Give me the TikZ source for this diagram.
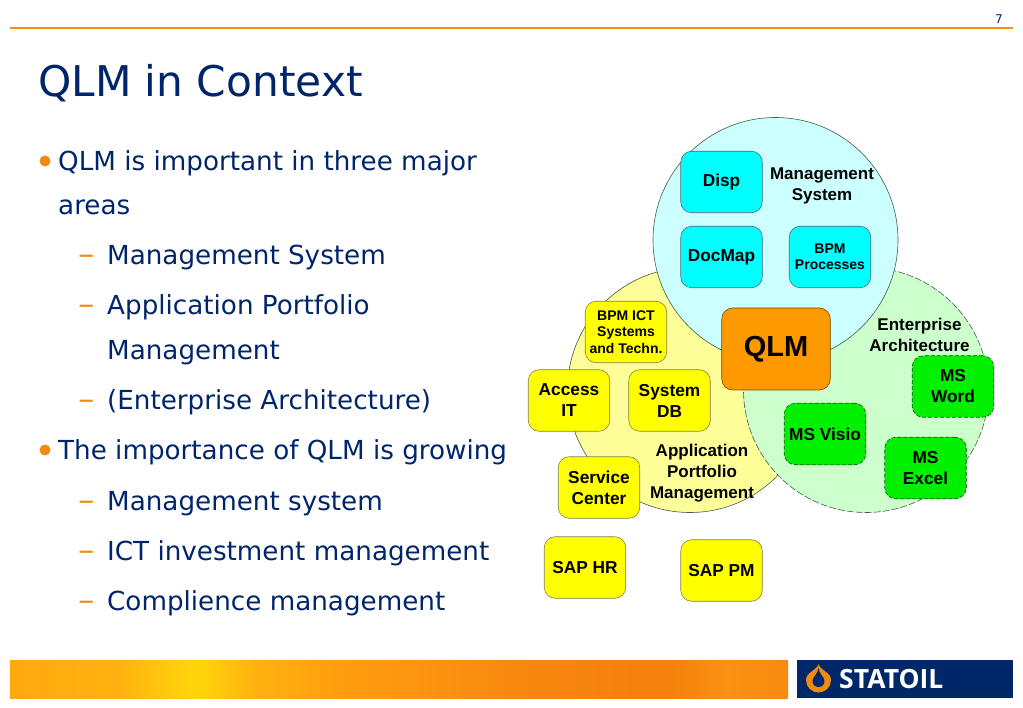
\documentclass[tikz,border=0pt]{standalone}
\usepackage{fontspec}
\setmainfont{DejaVu Sans}
\newfontfamily\lblfont[BoldFont={Liberation Sans Bold}]{Liberation Sans}
\newfontfamily\logofont{Open Sans}[BoldFont={Open Sans Bold}]
\definecolor{navy}{HTML}{00256B}
\definecolor{headerline}{HTML}{F59000}
\definecolor{bulletcol}{HTML}{F08A12}
\definecolor{logoblue}{HTML}{002868}
\definecolor{edgecol}{HTML}{3F5F3F}
\definecolor{lcyan}{HTML}{CCFFFF}
\definecolor{lyellow}{HTML}{FFFF99}
\definecolor{lgreen}{HTML}{CCFFCC}
\definecolor{cyanbox}{HTML}{00FFFF}
\definecolor{yellowbox}{HTML}{FFFF00}
\definecolor{greenbox}{HTML}{00F000}
\definecolor{orangebox}{HTML}{FF9900}
\pgfdeclarehorizontalshading{footerband}{100bp}{
 rgb(0bp)=(1,0.66,0.06);
 rgb(25bp)=(1,0.66,0.06);
 rgb(32bp)=(1,0.70,0.06);
 rgb(37bp)=(1,0.84,0.04);
 rgb(41bp)=(1,0.69,0.06);
 rgb(46bp)=(1,0.62,0.06);
 rgb(58.5bp)=(0.97,0.53,0.06);
 rgb(67bp)=(0.96,0.50,0.05);
 rgb(71bp)=(0.98,0.57,0.07);
 rgb(75bp)=(0.97,0.54,0.06);
 rgb(100bp)=(0.97,0.54,0.06)}
\newcommand{\longdash}{\scalebox{1.25}[1.15]{–}}
\tikzset{
 x=1pt,y=-1pt,
 titletext/.style={anchor=base west,inner sep=0pt,text=navy,font=\fontsize{42.3}{50}\selectfont},
 bodytext/.style={anchor=base west,inner sep=0pt,text=navy,font=\fontsize{26.2}{30}\selectfont},
 dashmark/.style={anchor=base west,inner sep=0pt,text=bulletcol,font=\fontsize{26.2}{30}\selectfont},
 bulletdot/.style={circle,fill=bulletcol,draw=none,minimum size=11pt,inner sep=0pt},
 area/.style={circle,minimum size=245pt,inner sep=0pt,draw=edgecol,line width=0.6pt},
 arealabel/.style={inner sep=0pt,align=center,text=black,font=\lblfont\bfseries\fontsize{17}{21}\selectfont},
 box/.style={rounded corners=11pt,minimum width=81.5pt,minimum height=61.5pt,inner sep=0pt,align=center,draw=edgecol,line width=0.6pt,text=black,font=\lblfont\bfseries\fontsize{17.3}{21}\selectfont},
 cyanitem/.style={box,fill=cyanbox,draw=black!60!cyan},
 yellowitem/.style={box,fill=yellowbox,draw=black!55!yellow},
 greenitem/.style={box,fill=greenbox,draw=black!65!green,dash pattern=on 4pt off 2pt},
 smalltext/.style={font=\lblfont\bfseries\fontsize{14}{16.3}\selectfont},
}
\begin{document}
\begin{tikzpicture}
\useasboundingbox (0,0) rectangle (1023,708);
\fill[white] (0,0) rectangle (1023,708);
% header
\fill[fill=headerline] (10,26.9) rectangle (1013,28.6);
\node[anchor=base east,inner sep=0pt,text=navy,font=\fontsize{12}{14}\selectfont] (pageno) at (1003,24) {7};
\node[titletext] (title) at (38,97) {QLM in Context};
% body text
\node[bulletdot] (b1) at (45,161) {};
\node[bodytext] (t1) at (58,171) {QLM is important in three major};
\node[bodytext] (t1b) at (58,215) {areas};
\node[dashmark] (d1) at (78,265) {\longdash};
\node[bodytext] (t2) at (107,265) {Management System};
\node[dashmark] (d2) at (78,315) {\longdash};
\node[bodytext] (t3) at (107,315) {Application Portfolio};
\node[bodytext] (t3b) at (107,360) {Management};
\node[dashmark] (d3) at (78,410) {\longdash};
\node[bodytext] (t4) at (107,410) {(Enterprise Architecture)};
\node[bulletdot] (b2) at (45,450) {};
\node[bodytext] (t5) at (58,460) {The importance of QLM is growing};
\node[dashmark] (d4) at (78,510) {\longdash};
\node[bodytext] (t6) at (107,510) {Management system};
\node[dashmark] (d5) at (78,560) {\longdash};
\node[bodytext] (t7) at (107,560) {ICT investment management};
\node[dashmark] (d6) at (78,610) {\longdash};
\node[bodytext] (t8) at (107,610) {Complience management};
% circles
\node[area,fill=lyellow] (apm) at (690,390) {};
\node[area,fill=lgreen,dash pattern=on 7pt off 2pt] (ea) at (866,390) {};
\node[area,fill=lcyan] (ms) at (775.5,240) {};
% circle labels
\node[arealabel] (msl) at (822,186) {Management\\System};
\node[arealabel] (eal) at (919.5,335) {Enterprise\\Architecture};
\node[arealabel] (apl) at (702,473) {Application\\Portfolio\\Management};
% boxes
\node[cyanitem] (disp) at (721.5,182) {Disp};
\node[cyanitem] (docmap) at (721.5,257) {DocMap};
\node[cyanitem,smalltext] (bpmp) at (830,257) {BPM\\Processes};
\node[yellowitem,smalltext] (bpmict) at (626,332) {BPM ICT\\Systems\\and Techn.};
\node[yellowitem] (access) at (569,400.5) {Access\\IT};
\node[yellowitem] (sysdb) at (669.5,400.5) {System\\DB};
\node[yellowitem] (service) at (599,487.5) {Service\\Center};
\node[yellowitem] (saphr) at (585,567.5) {SAP HR};
\node[yellowitem] (sappm) at (721.5,570.5) {SAP PM};
\node[greenitem] (msword) at (953,386.5) {MS\\Word};
\node[greenitem] (msvisio) at (825,434) {MS Visio};
\node[greenitem] (msexcel) at (925.5,468) {MS\\Excel};
\node[box,fill=orangebox,minimum width=108.5pt,minimum height=82pt,font=\lblfont\bfseries\fontsize{29}{32}\selectfont,draw=black!50!orange] (qlm) at (776,349) {QLM};
% footer
\shade[shading=footerband] (10,660) rectangle (788,698);
\fill[logoblue] (797,660) rectangle (1013,698);
\fill[bulletcol] (818.5,664) .. controls (819.5,670) and (831,672) .. (831,680) .. controls (831,687) and (825.5,692.5) .. (818.5,692.5) .. controls (811.5,692.5) and (806,687) .. (806,680) .. controls (806,672) and (817.5,670) .. (818.5,664) -- cycle;
\fill[logoblue] (818.5,668) .. controls (819,674) and (824.5,677) .. (824.5,681) .. controls (824.5,684.5) and (822,687) .. (818.5,687) .. controls (815,687) and (812.5,684.5) .. (812.5,681) .. controls (812.5,677) and (818,674) .. (818.5,668) -- cycle;
\node[anchor=base west,inner sep=0pt,text=white,font=\logofont\bfseries\fontsize{26.5}{30}\selectfont] (logo) at (839,688) {STATOIL};
\end{tikzpicture}
\end{document}
